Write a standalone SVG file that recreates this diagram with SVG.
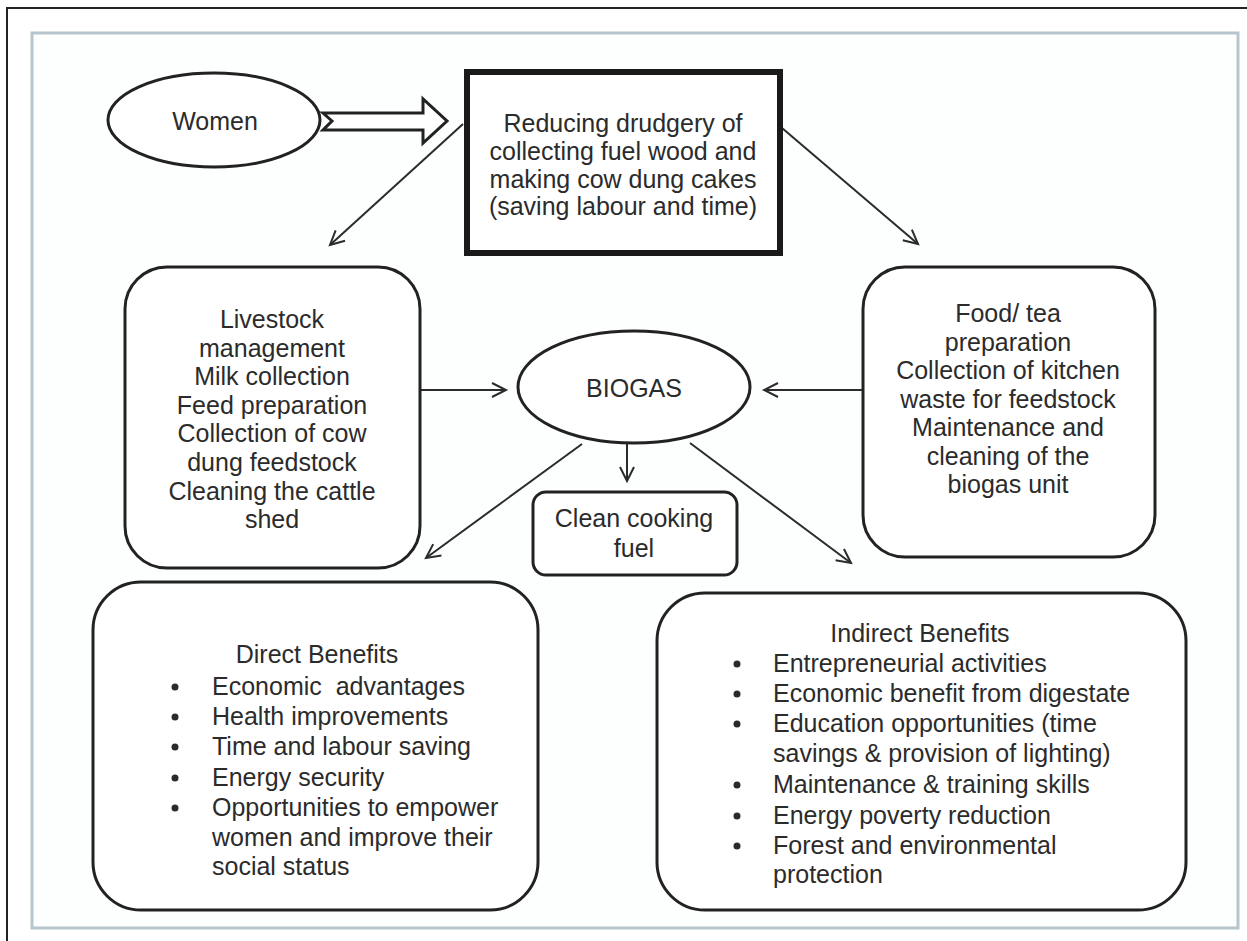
<svg xmlns="http://www.w3.org/2000/svg" width="1247" height="941" viewBox="0 0 1247 941">
<style>
text{font-family:"Liberation Sans",Arial,sans-serif;font-size:25px;fill:#2b2b2b}
.c{text-anchor:middle}
.node{fill:#fff;stroke:#222;stroke-width:3}
.conn{stroke:#2b2b2b;stroke-width:2;fill:none;marker-end:url(#arr)}
</style>
<defs>
<marker id="arr" markerUnits="userSpaceOnUse" markerWidth="20" markerHeight="20" refX="15" refY="8" orient="auto">
<path d="M1,1 L15,8 L1,15" fill="none" stroke="#2b2b2b" stroke-width="2"/>
</marker>
</defs>
<rect width="1247" height="941" fill="#fff"/>
<path d="M7,941 L7,8 L1247,8" fill="none" stroke="#222" stroke-width="2"/>
<rect x="32" y="33" width="1206" height="895" fill="#fdfefe" stroke="#b7c5cd" stroke-width="3"/>

<g id="connectors">
<polygon points="323,113 423,113 423,99 447,121 423,143 423,130 323,130 332,121" fill="#fff" stroke="#222" stroke-width="3" stroke-linejoin="miter"/>
<line class="conn" x1="463" y1="124" x2="330" y2="245"/>
<line class="conn" x1="782" y1="128" x2="918" y2="244"/>
<line class="conn" x1="421" y1="390" x2="506" y2="390"/>
<line class="conn" x1="862" y1="390" x2="764" y2="390"/>
<line class="conn" x1="627" y1="443" x2="627" y2="481"/>
<line class="conn" x1="582" y1="444" x2="426" y2="558"/>
<line class="conn" x1="690" y1="443" x2="851" y2="563"/>
</g>

<g id="women">
<ellipse class="node" cx="214" cy="120" rx="106" ry="47"/>
<text class="c" x="215" y="130">Women</text>
</g>

<g id="drudgery">
<rect x="467" y="72" width="313" height="181" fill="#fff" stroke="#1a1a1a" stroke-width="6"/>
<text class="c" x="623" y="132">Reducing drudgery of</text>
<text class="c" x="623" y="160">collecting fuel wood and</text>
<text class="c" x="623" y="188">making cow dung cakes</text>
<text class="c" x="623" y="215">(saving labour and time)</text>
</g>

<g id="livestock">
<rect class="node" x="125" y="267" width="295" height="301" rx="42"/>
<text class="c" x="272" y="328">Livestock</text>
<text class="c" x="272" y="357">management</text>
<text class="c" x="272" y="385">Milk collection</text>
<text class="c" x="272" y="414">Feed preparation</text>
<text class="c" x="272" y="442">Collection of cow</text>
<text class="c" x="272" y="471">dung feedstock</text>
<text class="c" x="272" y="500">Cleaning the cattle</text>
<text class="c" x="272" y="528">shed</text>
</g>

<g id="biogas">
<ellipse class="node" cx="634" cy="387" rx="116" ry="56"/>
<text class="c" x="634" y="397">BIOGAS</text>
</g>

<g id="food">
<rect class="node" x="863" y="267" width="292" height="290" rx="42"/>
<text class="c" x="1008" y="322">Food/ tea</text>
<text class="c" x="1008" y="351">preparation</text>
<text class="c" x="1008" y="379">Collection of kitchen</text>
<text class="c" x="1008" y="408">waste for feedstock</text>
<text class="c" x="1008" y="436">Maintenance and</text>
<text class="c" x="1008" y="465">cleaning of the</text>
<text class="c" x="1008" y="493">biogas unit</text>
</g>

<g id="cooking">
<rect class="node" x="533" y="492" width="204" height="83" rx="13"/>
<text class="c" x="634" y="527">Clean cooking</text>
<text class="c" x="634" y="557">fuel</text>
</g>

<g id="direct">
<rect class="node" x="93" y="582" width="445" height="328" rx="48"/>
<text class="c" x="317" y="663">Direct Benefits</text>
<g>
<circle cx="175" cy="687" r="3.5" fill="#2b2b2b"/>
<circle cx="175" cy="717" r="3.5" fill="#2b2b2b"/>
<circle cx="175" cy="747" r="3.5" fill="#2b2b2b"/>
<circle cx="175" cy="778" r="3.5" fill="#2b2b2b"/>
<circle cx="175" cy="808" r="3.5" fill="#2b2b2b"/>
</g>
<text x="212" y="695" xml:space="preserve">Economic  advantages</text>
<text x="212" y="725">Health improvements</text>
<text x="212" y="755">Time and labour saving</text>
<text x="212" y="786">Energy security</text>
<text x="212" y="816">Opportunities to empower</text>
<text x="212" y="846">women and improve their</text>
<text x="212" y="875">social status</text>
</g>

<g id="indirect">
<rect class="node" x="657" y="593" width="529" height="317" rx="48"/>
<text class="c" x="920" y="642">Indirect Benefits</text>
<g>
<circle cx="737" cy="664" r="3.5" fill="#2b2b2b"/>
<circle cx="737" cy="694" r="3.5" fill="#2b2b2b"/>
<circle cx="737" cy="724" r="3.5" fill="#2b2b2b"/>
<circle cx="737" cy="785" r="3.5" fill="#2b2b2b"/>
<circle cx="737" cy="816" r="3.5" fill="#2b2b2b"/>
<circle cx="737" cy="846" r="3.5" fill="#2b2b2b"/>
</g>
<text x="773" y="672">Entrepreneurial activities</text>
<text x="773" y="702">Economic benefit from digestate</text>
<text x="773" y="732">Education opportunities (time</text>
<text x="773" y="762">savings &amp; provision of lighting)</text>
<text x="773" y="793">Maintenance &amp; training skills</text>
<text x="773" y="824">Energy poverty reduction</text>
<text x="773" y="854">Forest and environmental</text>
<text x="773" y="883">protection</text>
</g>
</svg>
